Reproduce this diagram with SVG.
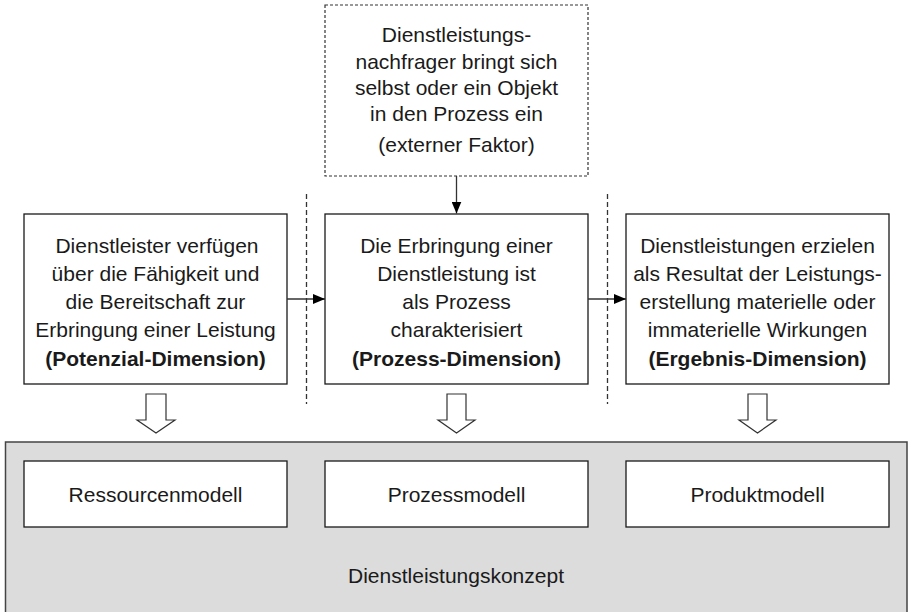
<svg xmlns="http://www.w3.org/2000/svg" width="912" height="612" viewBox="0 0 912 612">
<defs>
<style>
.box{fill:#fff;stroke:#1a1a1a;stroke-width:1.3}
.ext{fill:#fff;stroke:#333;stroke-width:1.2;stroke-dasharray:3 2}
.t{font-family:"Liberation Sans",Arial,sans-serif;font-size:21px;fill:#1a1a1a;text-anchor:middle}
.b{font-weight:bold}
.sep{stroke:#333;stroke-width:1.3;stroke-dasharray:5 3;fill:none}
.ln{stroke:#333;stroke-width:1.3;fill:none}
.blk{fill:#fff;stroke:#333;stroke-width:1.2;stroke-linejoin:miter}
</style>
<marker id="ah" viewBox="0 0 12 10" refX="12" refY="5" markerWidth="12" markerHeight="10" markerUnits="userSpaceOnUse" orient="auto">
<path d="M0,0 L12,5 L0,10 Z" fill="#000"/>
</marker>
</defs>
<rect width="912" height="612" fill="#fff"/>

<g id="konzept">
<rect x="5.5" y="442" width="901.5" height="180" fill="#dcdcdc" stroke="#444" stroke-width="1.5"/>
<text class="t" x="456" y="583">Dienstleistungskonzept</text>
</g>

<g id="extern">
<rect class="ext" x="325" y="5" width="263" height="171"/>
<text class="t" x="456.5" y="42">Dienstleistungs-</text>
<text class="t" x="456.5" y="68.5">nachfrager bringt sich</text>
<text class="t" x="456.5" y="94.5">selbst oder ein Objekt</text>
<text class="t" x="456.5" y="120.5">in den Prozess ein</text>
<text class="t" x="456.5" y="152">(externer Faktor)</text>
</g>

<g id="potenzial">
<rect class="box" x="24" y="214" width="263" height="170"/>
<text class="t" x="157" y="253">Dienstleister verfügen</text>
<text class="t" x="155.5" y="281">über die Fähigkeit und</text>
<text class="t" x="155.5" y="309">die Bereitschaft zur</text>
<text class="t" x="155.5" y="337">Erbringung einer Leistung</text>
<text class="t b" x="155.5" y="366">(Potenzial-Dimension)</text>
</g>

<g id="prozess">
<rect class="box" x="325" y="214" width="263" height="170"/>
<text class="t" x="456.5" y="253">Die Erbringung einer</text>
<text class="t" x="456.5" y="281">Dienstleistung ist</text>
<text class="t" x="456.5" y="309">als Prozess</text>
<text class="t" x="456.5" y="337">charakterisiert</text>
<text class="t b" x="456.5" y="366">(Prozess-Dimension)</text>
</g>

<g id="ergebnis">
<rect class="box" x="626" y="214" width="263" height="170"/>
<text class="t" x="757.5" y="253">Dienstleistungen erzielen</text>
<text class="t" x="757.5" y="281">als Resultat der Leistungs-</text>
<text class="t" x="757.5" y="309">erstellung materielle oder</text>
<text class="t" x="757.5" y="337">immaterielle Wirkungen</text>
<text class="t b" x="757.5" y="366">(Ergebnis-Dimension)</text>
</g>

<g id="ressourcenmodell">
<rect class="box" x="24" y="461" width="263" height="66"/>
<text class="t" x="155.5" y="502">Ressourcenmodell</text>
</g>
<g id="prozessmodell">
<rect class="box" x="325" y="461" width="263" height="66"/>
<text class="t" x="456.5" y="502">Prozessmodell</text>
</g>
<g id="produktmodell">
<rect class="box" x="626" y="461" width="263" height="66"/>
<text class="t" x="757.5" y="502">Produktmodell</text>
</g>

<g id="connectors">
<line class="sep" x1="306.5" y1="194" x2="306.5" y2="404"/>
<line class="sep" x1="607.5" y1="194" x2="607.5" y2="404"/>
<line class="ln" x1="456.5" y1="176" x2="456.5" y2="213.5" marker-end="url(#ah)"/>
<line class="ln" x1="287" y1="299" x2="325" y2="299" marker-end="url(#ah)"/>
<line class="ln" x1="588" y1="299" x2="626" y2="299" marker-end="url(#ah)"/>
<path class="blk" d="M146,394 H166 V420 H175 L156,433 L137,420 H146 Z"/>
<path class="blk" d="M447,394 H466 V420 H475 L456.5,433 L438,420 H447 Z"/>
<path class="blk" d="M748,394 H767 V420 H776 L757.5,433 L739,420 H748 Z"/>
</g>
</svg>
